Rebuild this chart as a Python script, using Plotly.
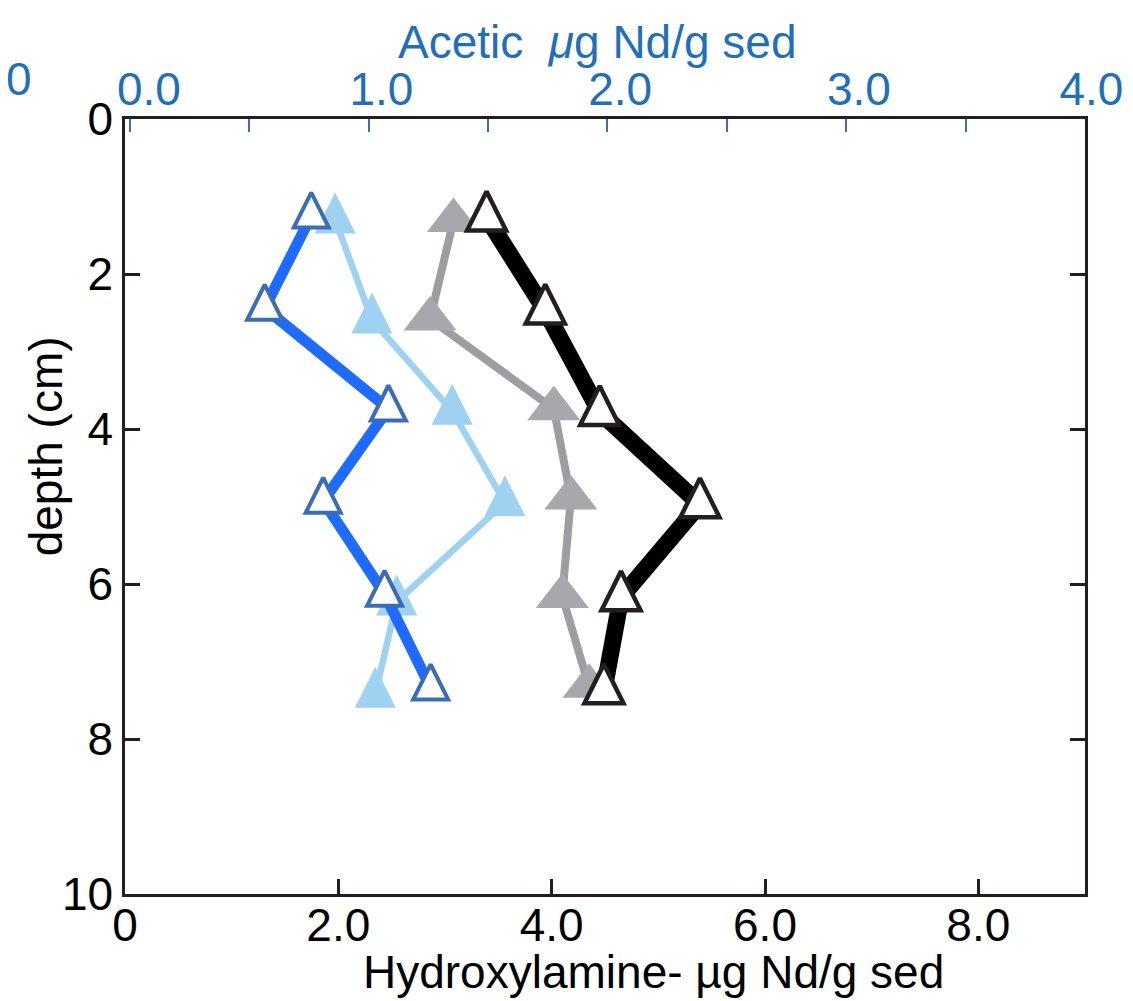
import plotly.graph_objects as go

# ---- data ----
# Acetic extraction (top axis, µg Nd/g sed)
acetic_a_x = [0.76, 0.565, 1.083, 0.81, 1.067, 1.26]      # dark blue, open triangles
acetic_a_depth = [1.25, 2.44, 3.74, 4.93, 6.13, 7.34]
acetic_b_x = [0.86, 1.014, 1.35, 1.571, 1.118, 1.028]      # light blue, filled triangles
acetic_b_depth = [1.30, 2.59, 3.77, 4.95, 6.23, 7.42]

# Hydroxylamine extraction (bottom axis, µg Nd/g sed)
hydrox_a_x = [3.39, 3.94, 4.45, 5.39, 4.65, 4.49]          # black, open triangles
hydrox_a_depth = [1.27, 2.47, 3.78, 4.97, 6.17, 7.37]
hydrox_b_x = [3.08, 2.86, 4.02, 4.18, 4.10, 4.35]          # grey, filled triangles
hydrox_b_depth = [1.31, 2.58, 3.74, 4.89, 6.16, 7.32]

bottom_tickvals = [0, 2, 4, 6, 8]
bottom_ticktext = ["0", "2.0", "4.0", "6.0", "8.0"]
top_tickvals = [0, 0.5, 1, 1.5, 2, 2.5, 3, 3.5, 4]
NB = "\u00a0"
top_ticktext = [NB * 3 + "0.0", "", NB * 2 + "1.0", "", NB * 2 + "2.0", "",
                NB * 2 + "3.0", "", NB + "4.0"]
y_tickvals = [0, 2, 4, 6, 8, 10]

FONT = "Liberation Sans, Arial, Helvetica, sans-serif"
BLUE_TXT = "#1f70b8"
AXC = "#231f20"
FS = 46


def up_tri(size):
    # equilateral-like triangle pointing up, centred on its centroid
    return dict(symbol="arrow-down", angle=180, standoff=2 * size / 3, size=size)


fig = go.Figure()

# grey (hydroxylamine, filled)
fig.add_trace(go.Scatter(
    x=hydrox_b_x, y=hydrox_b_depth, mode="lines+markers", xaxis="x", yaxis="y",
    line=dict(color="#9d9ea1", width=8),
    marker=dict(symbol="triangle-up", size=46, color="#a7a8ab", line=dict(width=0)),
    showlegend=False))

# black (hydroxylamine, open)
fig.add_trace(go.Scatter(
    x=hydrox_a_x, y=hydrox_a_depth, mode="lines+markers", xaxis="x", yaxis="y",
    line=dict(color="#000000", width=17),
    marker=dict(**up_tri(39), color="white", line=dict(width=4.5, color=AXC)),
    showlegend=False))

# light blue (acetic, filled)
fig.add_trace(go.Scatter(
    x=acetic_b_x, y=acetic_b_depth, mode="lines+markers", xaxis="x2", yaxis="y",
    line=dict(color="#9fd1f0", width=6.5),
    marker=dict(**up_tri(41), color="#9fd1f0", line=dict(width=0)),
    showlegend=False))

# dark blue (acetic, open)
fig.add_trace(go.Scatter(
    x=acetic_a_x, y=acetic_a_depth, mode="lines+markers", xaxis="x2", yaxis="y",
    line=dict(color="#1f6bff", width=11),
    marker=dict(**up_tri(35), color="white", line=dict(width=4, color="#3a6db5")),
    showlegend=False))

fig.update_layout(
    width=1133, height=1001,
    margin=dict(l=117, r=56, t=111, b=115),
    paper_bgcolor="white", plot_bgcolor="white",
    font=dict(family=FONT, size=FS, color="black"),
    xaxis=dict(range=[0, 9], tickvals=bottom_tickvals, ticktext=bottom_ticktext,
               ticks="inside", ticklen=15, tickwidth=2.5, tickcolor=AXC,
               showline=True, linecolor=AXC, linewidth=2.5, mirror=True,
               showgrid=False, zeroline=False,
               tickfont=dict(size=FS, color="black"), ticklabelstandoff=-11),
    xaxis2=dict(range=[-0.02, 4.0], overlaying="x", side="top", anchor="y",
                tickvals=top_tickvals, ticktext=top_ticktext,
                ticks="inside", ticklen=13, tickwidth=2, tickcolor="#3d6fb6",
                showline=False, showgrid=False, zeroline=False,
                tickfont=dict(size=FS, color=BLUE_TXT), ticklabelstandoff=4),
    yaxis=dict(range=[10, 0], tickvals=y_tickvals,
               ticks="inside", ticklen=15, tickwidth=2.5, tickcolor=AXC,
               showline=True, linecolor=AXC, linewidth=2.5, mirror="ticks",
               showgrid=False, zeroline=False,
               tickfont=dict(size=FS, color="black")),
)

annotations = [
    dict(text="Acetic\u00a0 <i>\u03bc</i>g Nd/g sed", x=0.4927, y=1.099,
         font=dict(size=FS, color=BLUE_TXT)),
    dict(text="Hydroxylamine- \u00b5g Nd/g sed", x=0.551, y=-0.1006,
         font=dict(size=FS, color="black")),
    dict(text="depth (cm)", x=-0.082, y=0.578, textangle=-90,
         font=dict(size=FS, color="black")),
    dict(text="0", x=-0.1105, y=1.051, font=dict(size=FS, color=BLUE_TXT)),
]
for a in annotations:
    fig.add_annotation(xref="paper", yref="paper", showarrow=False,
                       xanchor="center", yanchor="middle", **a)

fig.write_html("out.html")
